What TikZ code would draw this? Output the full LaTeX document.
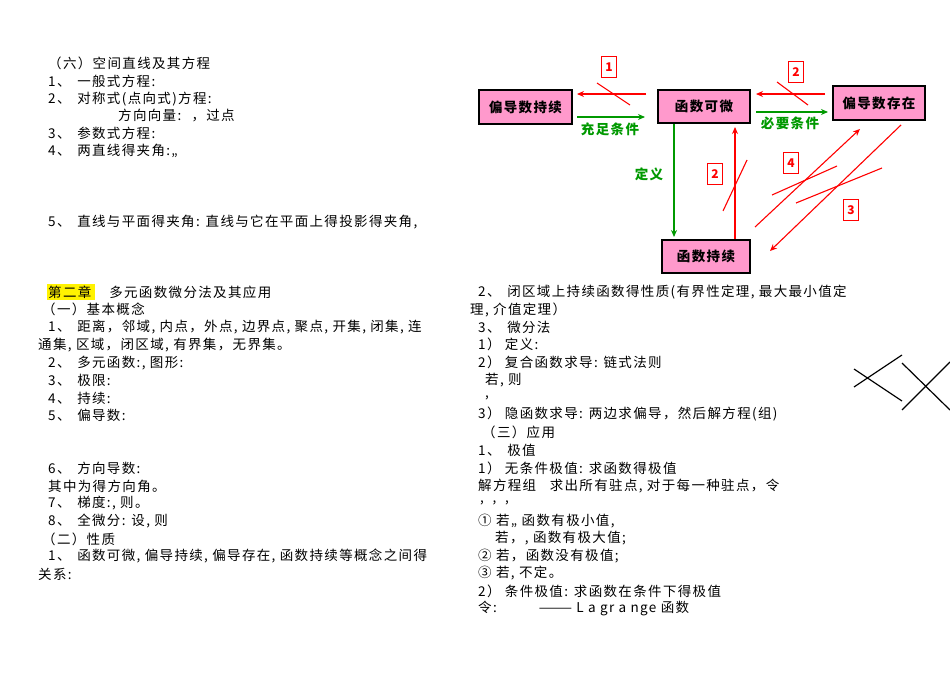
\documentclass[tikz,border=0pt]{standalone}
\usepackage{fontspec}
\setmainfont{Noto Sans CJK SC}[LetterSpace=10]
\usetikzlibrary{arrows.meta}
\definecolor{pinkbox}{RGB}{255,153,204}
\definecolor{grn}{RGB}{0,153,0}
\begin{document}
\begin{tikzpicture}[x=1pt,y=-1pt,
  tl/.style={anchor=west,inner sep=0pt,font=\fontsize{13.5}{15}\selectfont},
  bx/.style={draw,line width=1.2pt,fill=pinkbox,inner sep=0pt,font=\fontsize{13.5}{15}\selectfont\bfseries},
  lb/.style={draw=red,line width=1.1pt,inner sep=2pt,font=\fontsize{12}{14}\selectfont\bfseries,text=red,minimum width=15pt,minimum height=21pt},
  ra/.style={red,line width=1.1pt,-{Stealth[length=7pt,width=6pt]}},
  rl/.style={red,line width=1.1pt},
  ga/.style={grn,line width=1.3pt,-{Stealth[length=7pt,width=6pt]}},
  gt/.style={grn,inner sep=0pt,font=\fontsize{13.5}{15}\selectfont\bfseries}]
\useasboundingbox (0,0) rectangle (950,672);
\fill[white] (0,0) rectangle (950,672);
% left column
\node[tl] (l1) at (48,63) {（六）空间直线及其方程};
\node[tl] (l2) at (48,81) {1、\enspace 一般式方程:};
\node[tl] (l3) at (48,99) {2、\enspace 对称式(点向式)方程:};
\node[tl] (l4) at (118,116) {方向向量: \ ，过点};
\node[tl] (l5) at (48,133) {3、\enspace 参数式方程:};
\node[tl] (l6) at (48,151) {4、\enspace 两直线得夹角:,,};
\node[tl] (l7) at (48,222) {5、\enspace 直线与平面得夹角: 直线与它在平面上得投影得夹角,};
\fill[yellow] (47,284) rectangle (95,300);
\node[tl] (l8) at (48,292) {第二章\quad\ 多元函数微分法及其应用};
\node[tl] (l9) at (42,309) {（一）基本概念};
\node[tl] (l10) at (48,327) {1、\enspace 距离，邻域, 内点，外点, 边界点, 聚点, 开集, 闭集, 连};
\node[tl] (l11) at (38,345) {通集, 区域，闭区域, 有界集，无界集。};
\node[tl] (l12) at (48,363) {2、\enspace 多元函数:, 图形:};
\node[tl] (l13) at (48,380) {3、\enspace 极限:};
\node[tl] (l14) at (48,398) {4、\enspace 持续:};
\node[tl] (l15) at (48,415) {5、\enspace 偏导数:};
\node[tl] (l16) at (48,468) {6、\enspace 方向导数:};
\node[tl] (l17) at (48,486) {其中为得方向角。};
\node[tl] (l18) at (48,503) {7、\enspace 梯度:, 则。};
\node[tl] (l19) at (48,521) {8、\enspace 全微分: 设, 则};
\node[tl] (l20) at (42,539) {（二）性质};
\node[tl] (l21) at (48,556) {1、\enspace 函数可微, 偏导持续, 偏导存在, 函数持续等概念之间得};
\node[tl] (l22) at (38,574) {关系:};
% right column
\node[tl] (r1) at (478,292) {2、\enspace 闭区域上持续函数得性质(有界性定理, 最大最小值定};
\node[tl] (r2) at (470,310) {理, 介值定理）};
\node[tl] (r3) at (478,327) {3、\enspace 微分法};
\node[tl] (r4) at (478,344) {1）\ 定义:};
\node[tl] (r5) at (478,362) {2）\ 复合函数求导: 链式法则};
\node[tl] (r6) at (485,380) {若, 则};
\node[tl] (r7) at (485,398) {,};
\node[tl] (r8) at (478,414) {3）\ 隐函数求导: 两边求偏导，然后解方程(组)};
\node[tl] (r9) at (482,432) {（三）应用};
\node[tl] (r10) at (478,450) {1、\enspace 极值};
\node[tl] (r11) at (478,468) {1）\ 无条件极值: 求函数得极值};
\node[tl] (r12) at (478,486) {解方程组\quad 求出所有驻点, 对于每一种驻点，令};
\node[tl] (r13) at (480,503) {, \ , \ ,};
\node[tl] (r14) at (478,521) {① 若,, 函数有极小值,};
\node[tl] (r15) at (495,538) {若，, 函数有极大值;};
\node[tl] (r16) at (478,556) {② 若，函数没有极值;};
\node[tl] (r17) at (478,573) {③ 若, 不定。};
\node[tl] (r18) at (478,591) {2）\ 条件极值: 求函数在条件下得极值};
\node[tl] (r19) at (478,608) {令:\hspace{42pt}——— L a gr a nge 函数};
% diagram
\node[bx,minimum width=93pt,minimum height=34pt] (A) at (525.5,107) {偏导数持续};
\node[bx,minimum width=92pt,minimum height=33pt] (B) at (704,106.5) {函数可微};
\node[bx,minimum width=92pt,minimum height=34pt] (C) at (879,103) {偏导数存在};
\node[bx,minimum width=88pt,minimum height=33pt] (D) at (706,256.5) {函数持续};
\coordinate (b1) at (646,94); \coordinate (a1) at (577,94);
\draw[ra] (b1) -- (a1);
\coordinate (x1a) at (597,83); \coordinate (x1b) at (630,105);
\draw[rl] (x1a) -- (x1b);
\node[lb] (n1) at (609,67) {1};
\coordinate (a2) at (577,117); \coordinate (b2) at (645,117);
\draw[ga] (a2) -- (b2);
\node[gt] (t1) at (610,129) {充足条件};
\coordinate (c3) at (825,94); \coordinate (b3) at (756,94);
\draw[ra] (c3) -- (b3);
\coordinate (x2a) at (777,82); \coordinate (x2b) at (808,105);
\draw[rl] (x2a) -- (x2b);
\node[lb] (n2) at (796,72) {2};
\coordinate (b4) at (756,112); \coordinate (c4) at (828,112);
\draw[ga] (b4) -- (c4);
\node[gt] (t2) at (790,123) {必要条件};
\coordinate (b5) at (674,124); \coordinate (d5) at (674,237);
\draw[ga] (b5) -- (d5);
\node[gt] (t3) at (649,174) {定义};
\coordinate (d6) at (735,239); \coordinate (b6) at (735,127);
\draw[ra] (d6) -- (b6);
\coordinate (x3a) at (723,211); \coordinate (x3b) at (747,160);
\draw[rl] (x3a) -- (x3b);
\node[lb] (n3) at (715,174) {2};
\coordinate (d7) at (755,227); \coordinate (c7) at (860,129);
\draw[ra] (d7) -- (c7);
\coordinate (x4a) at (772,195); \coordinate (x4b) at (837,166);
\draw[rl] (x4a) -- (x4b);
\node[lb] (n4) at (791,163) {4};
\coordinate (c8) at (901,125); \coordinate (d8) at (770,251);
\draw[ra] (c8) -- (d8);
\coordinate (x5a) at (796,203); \coordinate (x5b) at (882,168);
\draw[rl] (x5a) -- (x5b);
\node[lb] (n5) at (851,210) {3};
% black X marks
\draw[line width=1.2pt] (854,387) -- (902,355);
\draw[line width=1.2pt] (854,369) -- (902,401);
\draw[line width=1.2pt] (902,363) -- (950,410);
\draw[line width=1.2pt] (902,410) -- (950,362);
\end{tikzpicture}
\end{document}
